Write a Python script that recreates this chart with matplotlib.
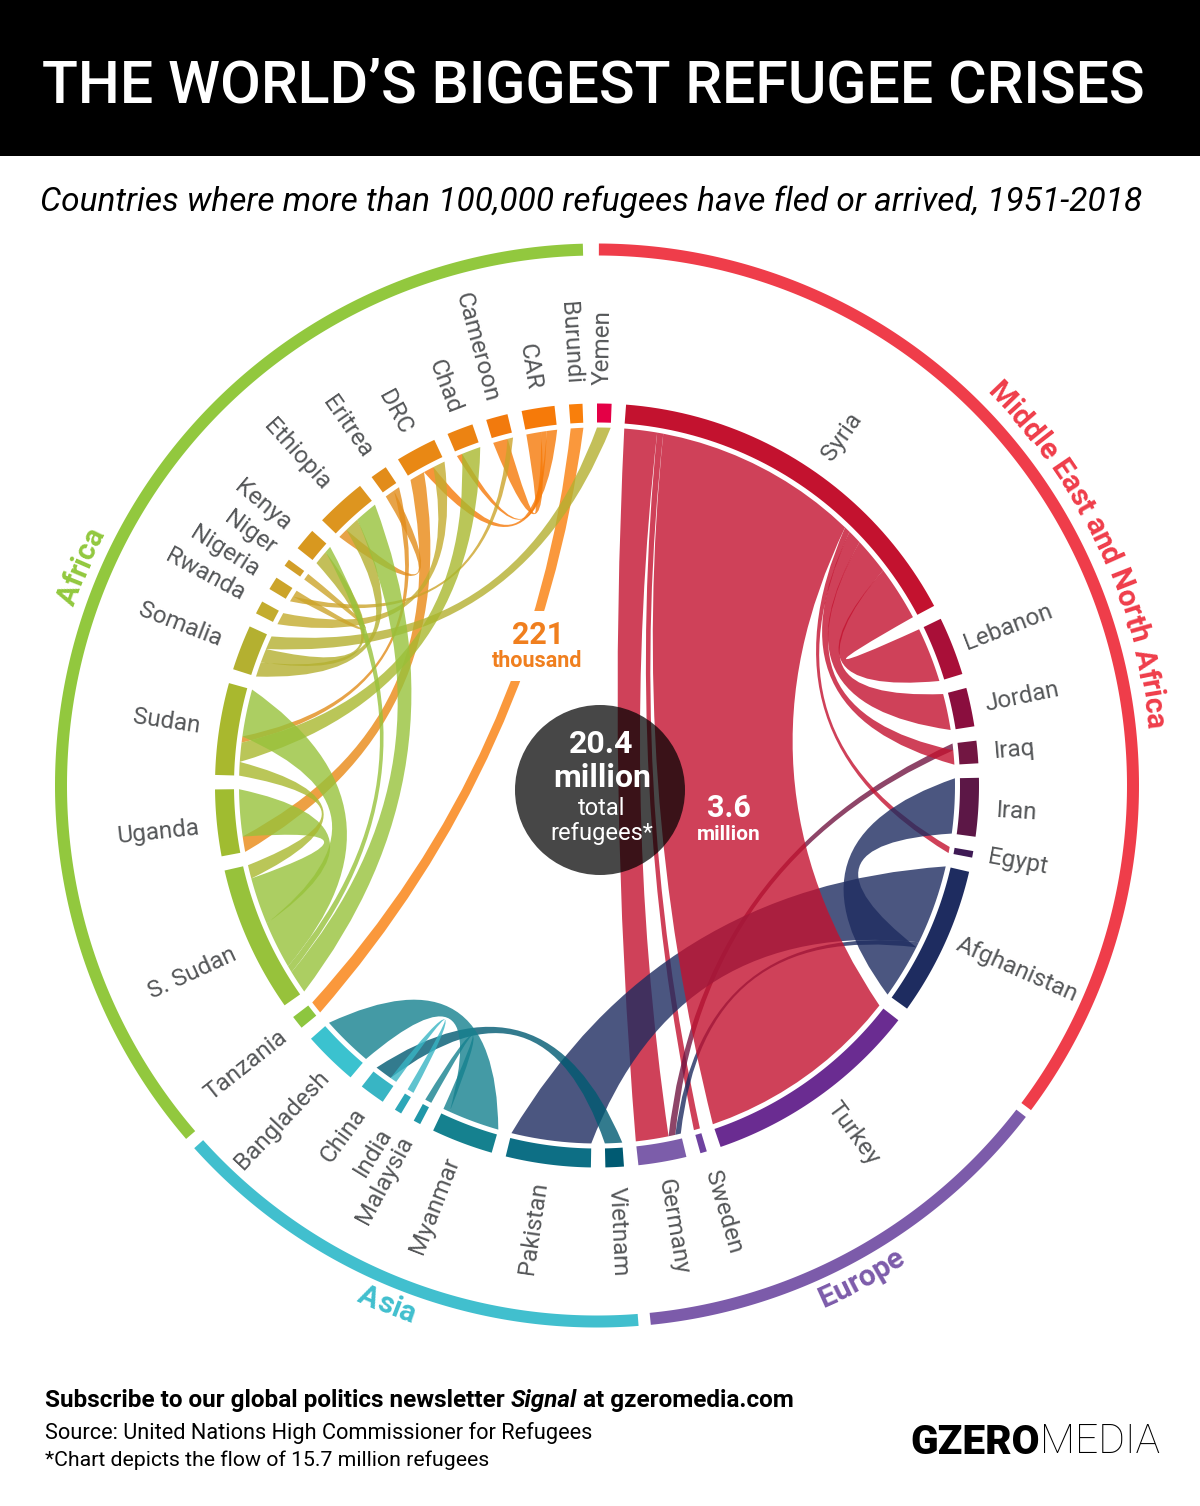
#!/usr/bin/env python3
"""The world's biggest refugee crises, drawn as a chord diagram."""

import numpy as np
import matplotlib
matplotlib.use('Agg')
import matplotlib.pyplot as plt
from matplotlib.patches import Circle, PathPatch, Rectangle
from matplotlib.path import Path

# countries clockwise from the top, arc colour and region
COUNTRIES = ['Yemen', 'Syria', 'Lebanon', 'Jordan', 'Iraq', 'Iran', 'Egypt', 'Afghanistan',
             'Turkey', 'Sweden', 'Germany', 'Vietnam', 'Pakistan', 'Myanmar', 'Malaysia',
             'India', 'China', 'Bangladesh', 'Tanzania', 'S. Sudan', 'Uganda', 'Sudan',
             'Somalia', 'Rwanda', 'Nigeria', 'Niger', 'Kenya', 'Ethiopia', 'Eritrea', 'DRC',
             'Chad', 'Cameroon', 'CAR', 'Burundi']
COLORS = ['#E40046', '#C3122F', '#A90F38', '#8A0E3E', '#721642', '#5C1746', '#3F1A55', '#1E2C60',
          '#6A2C91', '#6F42A0', '#7C5DAA', '#005A72', '#0D6F85', '#15818F', '#2097A8',
          '#2DA7B8', '#38B5C4', '#3BC2CF', '#8DC63F', '#97C23B', '#A0BC30', '#A9B82E',
          '#B4B030', '#C3AC2E', '#CCA42A', '#D29E28', '#D8981F', '#DD951F', '#E28C1A', '#E98814',
          '#EC8312', '#F27A0D', '#F67A09', '#F97F0B']

# flows in thousands of refugees, listed in drawing order
FLOW_FROM = ['Syria', 'Syria', 'Iraq', 'Syria', 'Afghanistan', 'Afghanistan', 'Afghanistan',
             'Syria', 'Syria', 'Syria', 'Syria',
             'Vietnam', 'Myanmar', 'Myanmar', 'China',
             'DRC', 'Eritrea', 'Eritrea', 'CAR', 'CAR', 'CAR', 'Burundi', 'Rwanda', 'Nigeria',
             'Nigeria', 'Somalia', 'Somalia', 'Somalia', 'Sudan', 'S. Sudan', 'S. Sudan',
             'S. Sudan', 'S. Sudan', 'Sudan']
FLOW_TO = ['Germany', 'Sweden', 'Germany', 'Egypt', 'Germany', 'Pakistan', 'Iran',
           'Turkey', 'Iraq', 'Jordan', 'Lebanon',
           'China', 'Bangladesh', 'Malaysia', 'India',
           'Uganda', 'Sudan', 'Ethiopia', 'Cameroon', 'Chad', 'DRC', 'Tanzania', 'DRC', 'Niger',
           'Cameroon', 'Yemen', 'Ethiopia', 'Kenya', 'Chad', 'Ethiopia', 'Kenya',
           'Uganda', 'Sudan', 'S. Sudan']
FLOW_K = [575, 108, 120, 108, 98, 1400, 962,
          3600, 250, 638, 965,
          303, 900, 119, 119,
          270, 108, 173, 260, 98, 184, 221, 217, 119,
          98, 238, 260, 249, 336, 401, 119,
          825, 832, 238]

# clockwise order of the flows along each arc
PORTS = {
    'Yemen': ['Somalia>Yemen'],
    'Syria': ['Syria>Germany', 'Syria>Sweden', 'Syria>Turkey', 'Syria>Egypt', 'Syria>Iraq',
              'Syria>Jordan', 'Syria>Lebanon'],
    'Lebanon': ['Syria>Lebanon'],
    'Jordan': ['Syria>Jordan'],
    'Iraq': ['Iraq>Germany', 'Syria>Iraq'],
    'Iran': ['Afghanistan>Iran'],
    'Egypt': ['Syria>Egypt'],
    'Afghanistan': ['Afghanistan>Pakistan', 'Afghanistan>Germany', 'Afghanistan>Iran'],
    'Turkey': ['Syria>Turkey'],
    'Sweden': ['Syria>Sweden'],
    'Germany': ['Afghanistan>Germany', 'Iraq>Germany', 'Syria>Germany'],
    'Vietnam': ['Vietnam>China'],
    'Pakistan': ['Afghanistan>Pakistan'],
    'Myanmar': ['Myanmar>Bangladesh', 'Myanmar>Malaysia'],
    'Malaysia': ['Myanmar>Malaysia'],
    'India': ['China>India'],
    'China': ['China>India', 'Vietnam>China'],
    'Bangladesh': ['Myanmar>Bangladesh'],
    'Tanzania': ['Burundi>Tanzania'],
    'S. Sudan': ['S. Sudan>Ethiopia', 'S. Sudan>Kenya', 'S. Sudan>Sudan', 'S. Sudan>Uganda',
                 'Sudan>S. Sudan'],
    'Uganda': ['DRC>Uganda', 'S. Sudan>Uganda'],
    'Sudan': ['Sudan>S. Sudan', 'Sudan>Chad', 'Eritrea>Sudan', 'S. Sudan>Sudan'],
    'Somalia': ['Somalia>Ethiopia', 'Somalia>Kenya', 'Somalia>Yemen'],
    'Rwanda': ['Rwanda>DRC'],
    'Nigeria': ['Nigeria>Cameroon', 'Nigeria>Niger'],
    'Niger': ['Nigeria>Niger'],
    'Kenya': ['Somalia>Kenya', 'S. Sudan>Kenya'],
    'Ethiopia': ['Eritrea>Ethiopia', 'Somalia>Ethiopia', 'S. Sudan>Ethiopia'],
    'Eritrea': ['Eritrea>Ethiopia', 'Eritrea>Sudan'],
    'DRC': ['DRC>Uganda', 'CAR>DRC', 'Rwanda>DRC'],
    'Chad': ['CAR>Chad', 'Sudan>Chad'],
    'Cameroon': ['CAR>Cameroon', 'Nigeria>Cameroon'],
    'CAR': ['CAR>Cameroon', 'CAR>Chad', 'CAR>DRC'],
    'Burundi': ['Burundi>Tanzania'],
}

# outer ring: region, start and end angle in degrees clockwise from the top
REGIONS = ['Middle East and North Africa', 'Europe', 'Asia', 'Africa']
REGION_COLORS = ['#EF3D4A', '#7C5BAA', '#41BFCE', '#92C83E']
REGION_START = [0.2, 127.7, 175.6, 229.3]
REGION_END = [126.8, 174.3, 228.0, 358.5]
REGION_LABEL_ANGLE = [64.5, 151.8, 202.0, 293.0]
REGION_LABEL_CW = [True, False, False, True]

# label centres in figure pixels, same order as COUNTRIES
LABEL_X = [603, 842, 1008, 1022, 1015, 1017, 1018, 1017, 853, 723, 673, 618, 533, 435, 385, 373,
           343, 282, 246, 192, 158, 167, 180, 205, 225, 250, 263, 297, 347, 395, 445, 477, 530, 570]
LABEL_Y = [347, 437, 627, 697, 750, 812, 862, 970, 1133, 1212, 1227, 1232, 1228, 1205, 1180, 1152,
           1135, 1120, 1065, 973, 832, 722, 625, 575, 552, 533, 505, 455, 427, 412, 387, 347, 367, 343]

CX, CY = 597.0, 785.5
R_OUT, R_IN, R_RIB = 382, 363, 358
R_RING_OUT, R_RING_IN = 542, 530
DEG_PER_K = 33.2 / 3600
FONT = 'Roboto'
GREY = '#555759'


def polar(theta, r):
    t = np.radians(theta)
    return CX + r * np.sin(t), CY - r * np.cos(t)


def arc_points(a0, a1, r, n=48):
    x, y = polar(np.linspace(a0, a1, n), r)
    return np.column_stack([x, y])


def ring_patch(a0, a1, r_in, r_out, color):
    pts = np.vstack([arc_points(a0, a1, r_out), arc_points(a1, a0, r_in)])
    return plt.Polygon(pts, closed=True, facecolor=color, edgecolor='none', zorder=3)


def control(a, b):
    # pull the curve towards the chord midpoint, less so for long chords
    half = np.radians(abs((a - b + 180) % 360 - 180) / 2)
    f = 0.63 + 0.15 * np.cos(half)
    pa, pb = np.array(polar(a, R_RIB)), np.array(polar(b, R_RIB))
    mid = (pa + pb) / 2
    centre = np.array([CX, CY])
    return centre + (2 * f - 1) * (mid - centre)


def ribbon_path(a0, a1, b0, b1):
    verts, codes = [], []
    arc_a = arc_points(a0, a1, R_RIB, 12)
    verts += list(arc_a)
    codes += [Path.MOVETO] + [Path.LINETO] * (len(arc_a) - 1)
    verts += [control(a1, b0), polar(b0, R_RIB)]
    codes += [Path.CURVE3, Path.CURVE3]
    arc_b = arc_points(b0, b1, R_RIB, 12)
    verts += list(arc_b[1:])
    codes += [Path.LINETO] * (len(arc_b) - 1)
    verts += [control(b1, a0), polar(a0, R_RIB)]
    codes += [Path.CURVE3, Path.CURVE3]
    return Path(np.array(verts, dtype=float), codes)


def fit_width(txt, width):
    # rescale a text so it spans the wanted pixel width
    w = txt.get_window_extent(renderer).width
    txt.set_fontsize(txt.get_fontsize() * width / w)


def curved_text(label, theta, r, color, clockwise, size):
    probe = ax.text(0, 0, label, fontsize=size, fontweight='bold', family=FONT)

    def width(s):
        probe.set_text(s)
        return probe.get_window_extent(renderer).width if s.strip() else 0.0

    total = width(label)
    sign = 1 if clockwise else -1
    for i, ch in enumerate(label):
        if ch == ' ':
            continue
        s = width(label[:i + 1]) - width(ch) / 2 - total / 2
        t = theta + sign * np.degrees(s / r)
        x, y = polar(t, r)
        rot = -t if clockwise else 180 - t
        ax.text(x, y, ch, color=color, fontsize=size, fontweight='bold', family=FONT,
                rotation=rot, rotation_mode='anchor', ha='center', va='center', zorder=5)
    probe.remove()


fig = plt.figure(figsize=(12, 15.06), dpi=100)
ax = fig.add_axes([0, 0, 1, 1])
ax.set_xlim(0, 1200)
ax.set_ylim(1506, 0)
ax.axis('off')
renderer = fig.canvas.get_renderer()

# header
ax.add_patch(Rectangle((0, 0), 1200, 156, facecolor='black', edgecolor='none'))
title = ax.text(42, 86, 'THE WORLD\u2019S BIGGEST REFUGEE CRISES', color='white', fontsize=41,
                family=FONT, fontweight='medium', va='center', ha='left')
fit_width(title, 1105)
sub = ax.text(40, 202, 'Countries where more than 100,000 refugees have fled or arrived, 1951-2018',
              color='black', fontsize=23, family=FONT, style='italic', va='center', ha='left')
fit_width(sub, 1103)

# layout of the arcs follows from the flows
flow_keys = [f'{a}>{b}' for a, b in zip(FLOW_FROM, FLOW_TO)]
flow_deg = dict(zip(flow_keys, np.array(FLOW_K) * DEG_PER_K))
total_deg = 2 * sum(flow_deg.values())
gap = (360 - total_deg) / len(COUNTRIES)

spans = {}
ports = {}
theta = 0.0
for name in COUNTRIES:
    start = theta
    for key in PORTS[name]:
        ports[(name, key)] = (theta, theta + flow_deg[key])
        theta += flow_deg[key]
    spans[name] = (start, theta)
    theta += gap

color_of = dict(zip(COUNTRIES, COLORS))

# ribbons
for src, dst, key in zip(FLOW_FROM, FLOW_TO, flow_keys):
    a0, a1 = ports[(src, key)]
    b0, b1 = ports[(dst, key)]
    ax.add_patch(PathPatch(ribbon_path(a0, a1, b0, b1), facecolor=color_of[src],
                           edgecolor='none', alpha=0.8, zorder=2))

# country arcs and labels
for name, lx, ly in zip(COUNTRIES, LABEL_X, LABEL_Y):
    a0, a1 = spans[name]
    ax.add_patch(ring_patch(a0, a1, R_IN, R_OUT, color_of[name]))
    t = np.degrees(np.arctan2(lx - CX, CY - ly)) % 360
    rot = 90 - t if t < 178 else 270 - t
    ax.text(lx, ly, name, color=GREY, fontsize=17.5, family=FONT, rotation=rot,
            rotation_mode='anchor', ha='center', va='center', zorder=5)

# outer ring and its curved labels
for label, col, a0, a1, at, cw in zip(REGIONS, REGION_COLORS, REGION_START, REGION_END,
                                      REGION_LABEL_ANGLE, REGION_LABEL_CW):
    ax.add_patch(plt.Polygon(np.vstack([arc_points(a0, a1, R_RING_OUT, 200),
                                        arc_points(a1, a0, R_RING_IN, 200)]),
                             closed=True, facecolor=col, edgecolor='none', zorder=3))
    curved_text(label, at, 561, col, cw, 21.5)

# gap in the Burundi ribbon for its label
ax.add_patch(Rectangle((485, 611), 100, 70, facecolor='white', edgecolor='none', zorder=4))
ax.text(538, 635, '221', color='#F07F1E', fontsize=22, fontweight='bold', family=FONT,
        ha='center', va='center', zorder=5)
ax.text(537, 661, 'thousand', color='#F07F1E', fontsize=15.5, fontweight='bold', family=FONT,
        ha='center', va='center', zorder=5)

# centre circle
ax.add_patch(Circle((600, 790), 85, facecolor='black', edgecolor='none', alpha=0.72, zorder=4))
ax.text(601, 744, '20.4', color='white', fontsize=23, fontweight='bold', family=FONT,
        ha='center', va='center', zorder=5)
ax.text(602, 778, 'million', color='white', fontsize=23, fontweight='bold', family=FONT,
        ha='center', va='center', zorder=5)
ax.text(602, 808, 'total', color='white', fontsize=17, family=FONT,
        ha='center', va='center', zorder=5)
ax.text(602, 833, 'refugees*', color='white', fontsize=17, family=FONT,
        ha='center', va='center', zorder=5)

ax.text(729, 808, '3.6', color='white', fontsize=22, fontweight='bold', family=FONT,
        ha='center', va='center', zorder=5)
ax.text(729, 834, 'million', color='white', fontsize=15, fontweight='bold', family=FONT,
        ha='center', va='center', zorder=5)

# footer
x = 45.0
for part, style in [('Subscribe to our global politics newsletter', 'normal'),
                    ('Signal', 'italic'), ('at gzeromedia.com', 'normal')]:
    t = ax.text(x, 1400, part, color='black', fontsize=17.5, fontweight='bold',
                style=style, family=FONT, va='center', ha='left')
    x += t.get_window_extent(renderer).width + 6
src_txt = ax.text(45, 1433, 'Source: United Nations High Commissioner for Refugees', color='black',
                  fontsize=15, family=FONT, va='center', ha='left')
fit_width(src_txt, 549)
note_txt = ax.text(45, 1460, '*Chart depicts the flow of 15.7 million refugees', color='black',
                   fontsize=15, family=FONT, va='center', ha='left')
fit_width(note_txt, 446)
gz = ax.text(910, 1442, 'GZERO', color='black', fontsize=25, fontweight='black', family=FONT,
             va='center', ha='left')
fit_width(gz, 130)
md = ax.text(1040, 1442, 'MEDIA', color='black', fontsize=25, fontweight='light', family=FONT,
             va='center', ha='left')
fit_width(md, 120)

fig.savefig('out.png', dpi=100, facecolor='white')
